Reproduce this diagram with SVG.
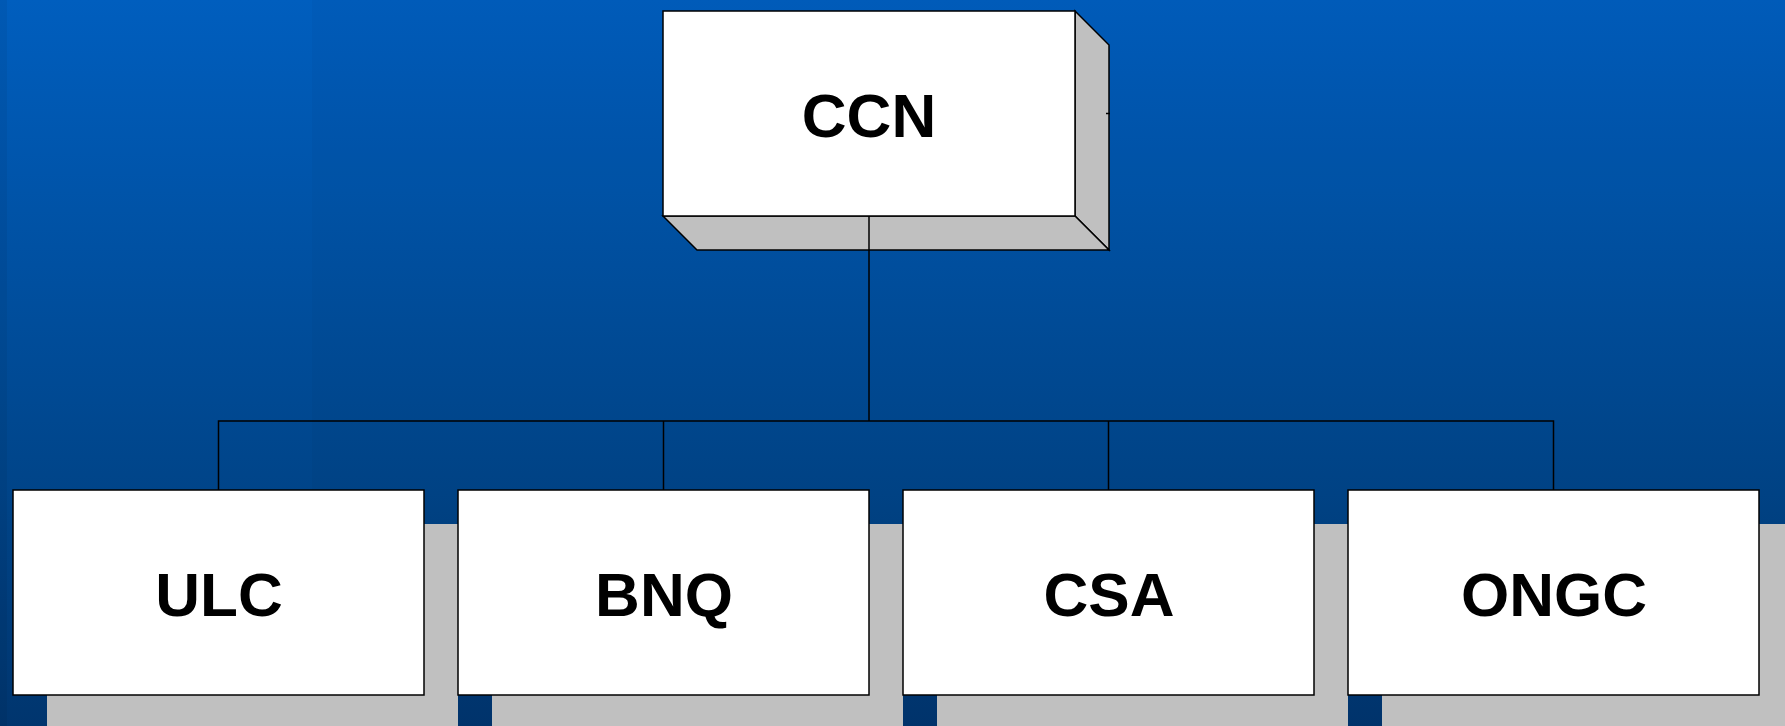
<svg xmlns="http://www.w3.org/2000/svg" width="1785" height="726" viewBox="0 0 1785 726">
<defs>
<linearGradient id="bg" x1="0" y1="0" x2="0" y2="1">
<stop offset="0" stop-color="#005ebe"/>
<stop offset="0.68" stop-color="#004488"/>
<stop offset="1" stop-color="#00356e"/>
</linearGradient>
</defs>
<style>
.box{fill:#ffffff;stroke:#000000;stroke-width:1.5}
.face{fill:#c0c0c0;stroke:#000000;stroke-width:1.5;stroke-linejoin:miter}
.shadow{fill:#c0c0c0}
.conn{fill:none;stroke:#000000;stroke-width:1.5}
.lbl{font-family:"Liberation Sans",Arial,sans-serif;font-weight:bold;font-size:62px;fill:#000000;text-anchor:middle}
</style>
<rect x="0" y="0" width="1785" height="726" fill="url(#bg)"/>
<rect x="312" y="0" width="1473" height="726" fill="#000000" opacity="0.025"/>
<rect x="0" y="0" width="7" height="726" fill="#000000" opacity="0.05"/>
<g id="shadows">
<rect class="shadow" x="47" y="524" width="411" height="205"/>
<rect class="shadow" x="492" y="524" width="411" height="205"/>
<rect class="shadow" x="937" y="524" width="411" height="205"/>
<rect class="shadow" x="1382" y="524" width="411" height="205"/>
</g>
<g id="node-ccn">
<polygon class="face" points="1075,11 1109,45 1109,250 1075,216"/>
<polygon class="face" points="663,216 697,250 1109,250 1075,216"/>
<rect class="box" x="663" y="11" width="412" height="205"/>
<line x1="1106" y1="113.5" x2="1110" y2="113.5" stroke="#000" stroke-width="1.5"/>
<text class="lbl" x="869" y="137">CCN</text>
</g>
<g id="connectors">
<polyline class="conn" points="869,216 869,421"/>
<polyline class="conn" points="218.5,490 218.5,421 1553.5,421 1553.5,490"/>
<line class="conn" x1="663.5" y1="421" x2="663.5" y2="490"/>
<line class="conn" x1="1108.5" y1="421" x2="1108.5" y2="490"/>
</g>
<g id="node-ulc">
<rect class="box" x="13" y="490" width="411" height="205"/>
<text class="lbl" x="219" y="616">ULC</text>
</g>
<g id="node-bnq">
<rect class="box" x="458" y="490" width="411" height="205"/>
<text class="lbl" x="664" y="616">BNQ</text>
</g>
<g id="node-csa">
<rect class="box" x="903" y="490" width="411" height="205"/>
<text class="lbl" x="1109" y="616">CSA</text>
</g>
<g id="node-ongc">
<rect class="box" x="1348" y="490" width="411" height="205"/>
<text class="lbl" x="1554" y="616">ONGC</text>
</g>
</svg>
